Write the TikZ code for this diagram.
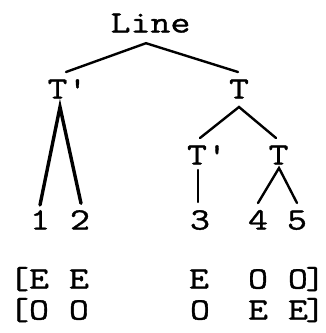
\documentclass[tikz,border=0pt]{standalone}
\usepackage{fontspec}
\setmonofont[FakeStretch=1.25,FakeBold=1.2]{Latin Modern Mono}
\usetikzlibrary{calc}
\begin{document}
\begin{tikzpicture}[x=1pt,y=-1pt,
  lbl/.style={font=\fontsize{31}{31}\selectfont\ttfamily, inner sep=0pt, text height=19pt, text depth=0pt},
  edge/.style={line width=2.4pt, line cap=round},
  thickedge/.style={line width=3.4pt, line cap=round}]
\useasboundingbox (0,0) rectangle (326,333);
\node[lbl] (L) at (150.5,23) {Line};
\node[lbl] (Tp1) at (67.5,89) {T'};
\node[lbl] (T1) at (239,89) {T};
\node[lbl] (Tp2) at (207,155) {T'};
\node[lbl] (T2) at (278.5,155) {T};
\node[lbl] (n1) at (40,220) {1};
\node[lbl] (n2) at (80,220) {2};
\node[lbl] (n3) at (200,220) {3};
\node[lbl] (n4) at (258,220) {4};
\node[lbl] (n5) at (297,220) {5};
\node[lbl] (r1a) at (49,279) {[E E};
\node[lbl] (r1b) at (199,279) {E};
\node[lbl] (r1c) at (278,279) {O O};
\node[lbl] (r1d) at (315.5,279) {]};
\node[lbl] (r2a) at (49,310) {[O O};
\node[lbl] (r2b) at (200,310) {O};
\node[lbl] (r2c) at (278,310) {E E};
\node[lbl] (r2d) at (315.5,310) {]};
% edges
\draw[edge] ($(Tp1.north)+(-1.5,-7.3)$) -- ($(L.south)+(-4.5,10.5)$) -- ($(T1.north)+(-1,-7.3)$);
\draw[thickedge] ($(n1.north)+(0,-5.3)$) -- ($(Tp1.south)+(-7.5,8.3)$) -- ($(n2.north)+(1,-7)$);
\draw[edge] ($(Tp2.north)+(-7,-7.3)$) -- ($(T1.south)+(0,8.3)$) -- ($(T2.north)+(-2.5,-7.3)$);
\draw[edge] ($(Tp2.south)+(-9,5.3)$) -- ($(n3.north)+(-2,-8.3)$);
\draw[edge] ($(n4.north)+(0,-7.3)$) -- ($(T2.south)+(0.5,3.3)$) -- ($(n5.north)+(0,-7.3)$);
\end{tikzpicture}
\end{document}
